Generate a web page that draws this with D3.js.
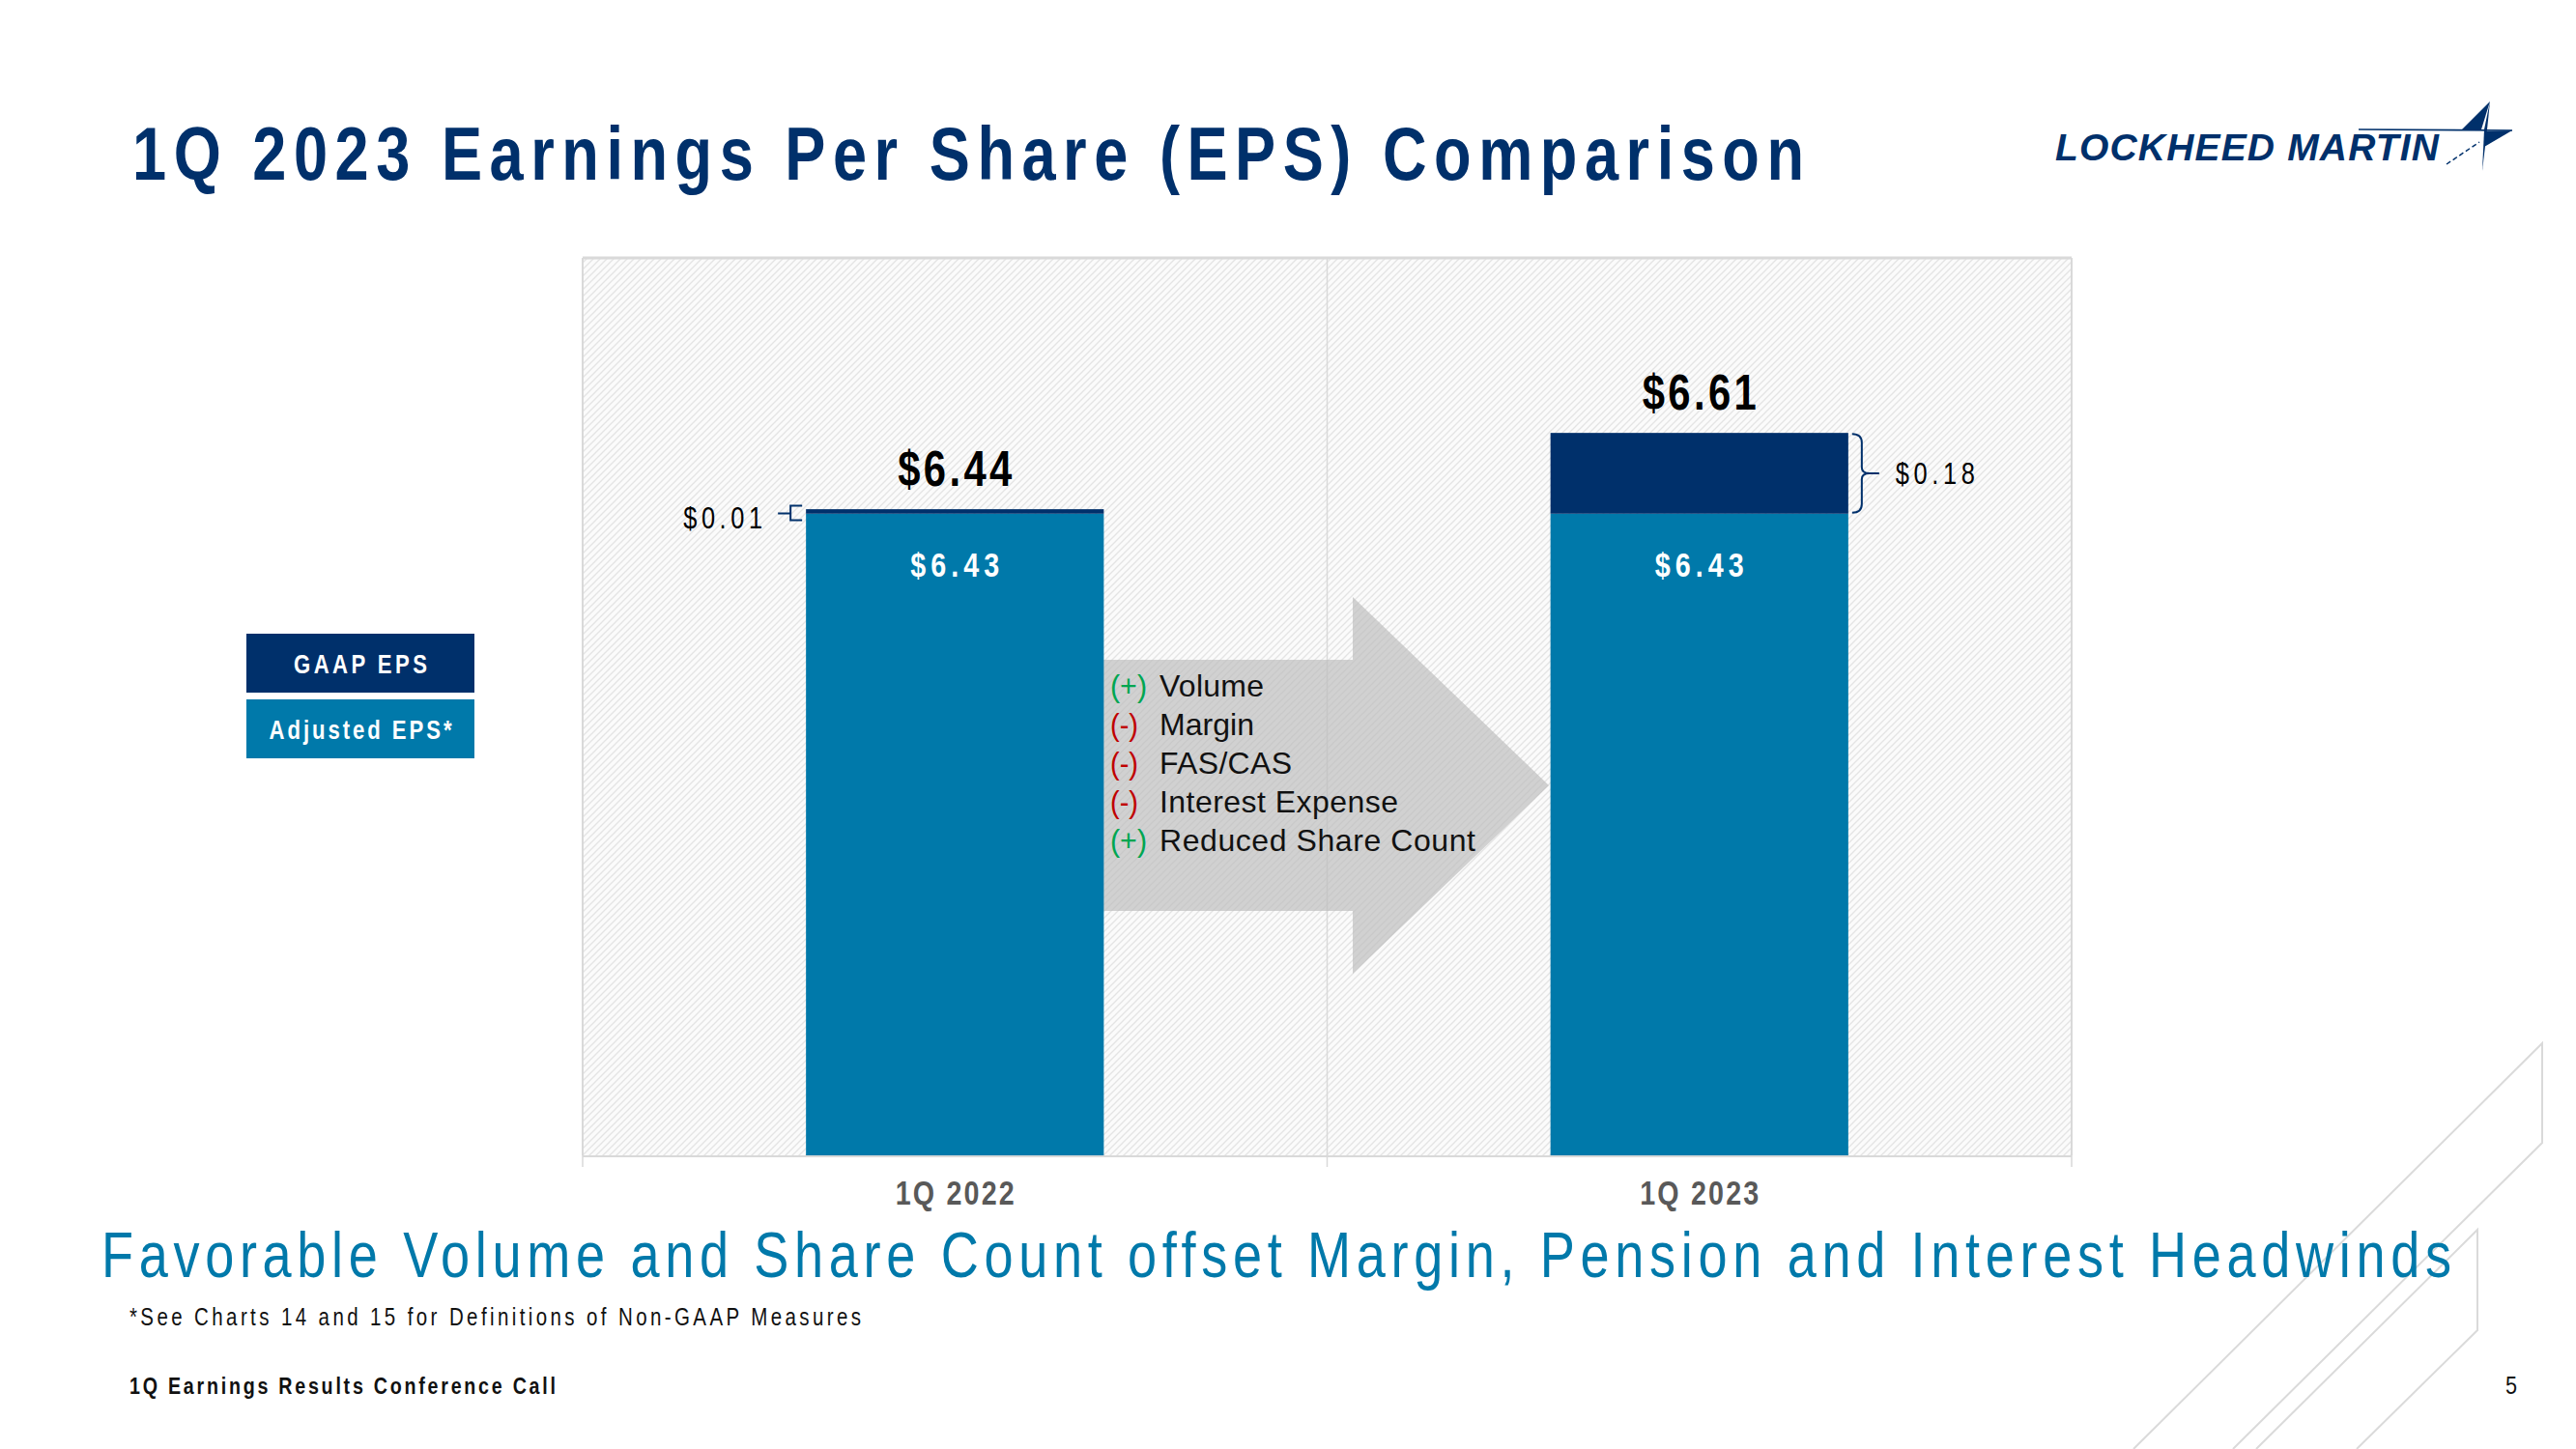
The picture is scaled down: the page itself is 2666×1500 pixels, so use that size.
<!DOCTYPE html>
<html>
<head>
<meta charset="utf-8">
<script src="https://cdn.jsdelivr.net/npm/d3@7"></script>
<style>
  html, body { margin: 0; padding: 0; background: #ffffff; }
  svg { display: block; }
</style>
</head>
<body>
<svg id="chart" width="2666" height="1500"></svg>
<script>
// ---------- DATA ----------
const categories = ["1Q 2022", "1Q 2023"];
const adjustedEPS = [6.43, 6.43];
const gaapEPS = [6.44, 6.61];
const yDomain = [5, 7];
const legendLabels = ["GAAP EPS", "Adjusted EPS*"];
const drivers = ["Volume", "Margin", "FAS/CAS", "Interest Expense", "Reduced Share Count"];
const driverSigns = ["+", "-", "-", "-", "+"];
const titleText = "1Q 2023 Earnings Per Share (EPS) Comparison";
const subtitleText = "Favorable Volume and Share Count offset Margin, Pension and Interest Headwinds";
const footnoteText = "*See Charts 14 and 15 for Definitions of Non-GAAP Measures";
const footerText = "1Q Earnings Results Conference Call";
const pageNumber = "5";
const logoText = "LOCKHEED MARTIN";

// ---------- STYLE ----------
const NAVY = "#00306b";
const TEAL = "#0079aa";
const FONT = "'Liberation Sans',Arial,'DejaVu Sans',sans-serif";
const NARROW_SCALE = 0.82;   // emulate a narrow face by horizontal scaling
const fmt = d3.format("$.2f");

const svg = d3.select("#chart");

// fit text to a target width (keeps it as real text)
function fit(sel, w) {
  sel.each(function () {
    const n = this.getComputedTextLength();
    this.setAttribute("textLength", w);
    this.setAttribute("lengthAdjust", n > w ? "spacingAndGlyphs" : "spacing");
  });
  return sel;
}
function label(parent, txt, x, y, w, size, opts = {}) {
  const k = opts.narrow ? NARROW_SCALE : 1;
  const g = parent.append("g").attr("transform", `translate(${x},${y}) scale(${k},1)`);
  const t = g.append("text")
    .attr("x", 0).attr("y", 0)
    .attr("font-family", FONT)
    .attr("font-size", size)
    .attr("font-weight", opts.weight || "normal")
    .attr("font-style", opts.style || "normal")
    .attr("fill", opts.fill || "#000")
    .text(txt);
  fit(t, w / k);
  return t;
}

// ---------- defs ----------
const defs = svg.append("defs");
const pat = defs.append("pattern").attr("id", "hatch")
  .attr("patternUnits", "userSpaceOnUse").attr("width", 7).attr("height", 7);
pat.append("rect").attr("width", 7).attr("height", 7).attr("fill", "#fbfbfb");
pat.append("path").attr("d", "M-1,1 l2,-2 M0,7 l7,-7 M6,8 l2,-2")
  .attr("stroke", "#e4e4e4").attr("stroke-width", 1.3);

// ---------- decorative lines ----------
const deco = svg.append("g").attr("fill", "none").attr("stroke", "#dadada").attr("stroke-width", 2);
deco.append("polyline").attr("points", "2208,1500 2631,1080 2631,1183 2311,1500");
deco.append("polyline").attr("points", "2335,1500 2564,1273 2564,1377 2439,1500");

// ---------- title ----------
label(svg, titleText, 137, 186, 1730, 77, { weight: "bold", fill: NAVY, narrow: true });

// ---------- logo ----------
label(svg, logoText, 2127, 166, 397, 39, { weight: "bold", style: "italic", fill: NAVY });
const logo = svg.append("g");
logo.append("line").attr("x1", 2441).attr("y1", 134).attr("x2", 2600).attr("y2", 135)
  .attr("stroke", NAVY).attr("stroke-width", 1.6);
logo.append("path").attr("d", "M2577,105 L2548,134 L2568,134 Z").attr("fill", NAVY);
logo.append("path").attr("d", "M2577,105 L2571,134 L2569,177 L2574,134 Z").attr("fill", NAVY);
logo.append("path").attr("d", "M2572,136 L2600,135 L2571,152 Z").attr("fill", NAVY);
logo.append("path").attr("d", "M2532,170 L2566,147").attr("stroke", NAVY).attr("stroke-width", 1.5)
  .attr("stroke-dasharray", "5,3");

// ---------- scales ----------
const plot = { left: 603, right: 2144, top: 267, bottom: 1196 };
const x = d3.scaleBand().domain(categories).range([plot.left, plot.right])
  .paddingInner(0.6).paddingOuter(0.3);
const y = d3.scaleLinear().domain(yDomain).range([plot.bottom, plot.top]);
const bw = x.bandwidth();

// ---------- plot background ----------
svg.append("rect").attr("x", plot.left).attr("y", plot.top)
  .attr("width", plot.right - plot.left).attr("height", plot.bottom - plot.top)
  .attr("fill", "url(#hatch)");
const frame = svg.append("g").attr("stroke", "#d9d9d9").attr("fill", "none");
frame.append("line").attr("x1", plot.left).attr("x2", plot.right).attr("y1", plot.top).attr("y2", plot.top).attr("stroke-width", 3);
frame.append("line").attr("x1", plot.left).attr("x2", plot.left).attr("y1", plot.top).attr("y2", plot.bottom).attr("stroke-width", 2);
frame.append("line").attr("x1", plot.right).attr("x2", plot.right).attr("y1", plot.top).attr("y2", plot.bottom).attr("stroke-width", 2);
// category divider
const boundaries = [plot.left, (x(categories[0]) + bw + x(categories[1])) / 2, plot.right];
frame.append("line").attr("x1", boundaries[1]).attr("x2", boundaries[1])
  .attr("y1", plot.top).attr("y2", plot.bottom).attr("stroke-width", 1.5);

// ---------- driver arrow ----------
const ax0 = 1141, ax1 = 1400, axTip = 1603, bodyTop = 683, bodyBot = 943, headTop = 618, headBot = 1008;
const mid = (headTop + headBot) / 2;
svg.append("path")
  .attr("d", `M${ax0},${bodyTop} H${ax1} V${headTop} L${axTip},${mid} L${ax1},${headBot} V${bodyBot} H${ax0} Z`)
  .attr("fill", "#bdbdbd").attr("fill-opacity", 0.68);

// ---------- bars ----------
const barData = categories.map((c, i) => ({ c, adj: adjustedEPS[i], gaap: gaapEPS[i], i }));
svg.append("g").selectAll("rect").data(barData).join("rect")
  .attr("x", d => x(d.c)).attr("width", bw)
  .attr("y", d => y(d.adj)).attr("height", d => y(yDomain[0]) - y(d.adj))
  .attr("fill", TEAL);
svg.append("g").selectAll("rect").data(barData).join("rect")
  .attr("x", d => x(d.c)).attr("width", bw)
  .attr("y", d => y(d.gaap)).attr("height", d => y(d.adj) - y(d.gaap))
  .attr("fill", NAVY);

// ---------- x axis ----------
const axis = svg.append("g").attr("transform", `translate(0,${plot.bottom})`)
  .call(d3.axisBottom(x).tickSize(0).tickPadding(0));
axis.select(".domain").remove();
axis.selectAll(".tick text")
  .attr("transform", `scale(${NARROW_SCALE},1)`)
  .attr("y", 51).attr("dy", 0).attr("x", -61.5 / NARROW_SCALE)
  .attr("text-anchor", "start")
  .attr("font-family", FONT).attr("font-size", 35).attr("font-weight", "bold").attr("fill", "#595959");
fit(axis.selectAll(".tick text"), 123 / NARROW_SCALE);
const axl = svg.append("g").attr("stroke", "#d9d9d9");
axl.append("line").attr("x1", plot.left).attr("x2", plot.right).attr("y1", plot.bottom + 1).attr("y2", plot.bottom + 1).attr("stroke-width", 2);
axl.selectAll("line.tk").data(boundaries).join("line").attr("class", "tk")
  .attr("x1", d => d).attr("x2", d => d).attr("y1", plot.bottom).attr("y2", plot.bottom + 12).attr("stroke-width", 1.5);

// ---------- value labels ----------
barData.forEach(d => {
  const cx = x(d.c) + bw / 2;
  label(svg, fmt(d.gaap), cx - 59, y(d.gaap) - 24, 118, 51, { weight: "bold", narrow: true });
  label(svg, fmt(d.adj), cx - 46, y(d.adj) + 65, 92, 35, { weight: "bold", fill: "#ffffff", narrow: true });
});

// difference labels + brackets
{
  const d = barData[0];
  const xl = x(d.c);
  const m = (y(d.gaap) + y(d.adj)) / 2;
  label(svg, fmt(d.gaap - d.adj), xl - 127, m + 18, 82, 31, { narrow: true });
  svg.append("path")
    .attr("d", `M${xl - 29},${m + 2} H${xl - 17} M${xl - 4},${m - 6} H${xl - 16} V${m + 9} H${xl - 4}`)
    .attr("fill", "none").attr("stroke", NAVY).attr("stroke-width", 2);
}
{
  const d = barData[1];
  const xr = x(d.c) + bw;
  const t = y(d.gaap), b = y(d.adj), m = (t + b) / 2;
  label(svg, fmt(d.gaap - d.adj), xr + 49, m + 11, 82, 31, { narrow: true });
  svg.append("path")
    .attr("d", `M${xr + 4},${t + 1} Q${xr + 14},${t + 1} ${xr + 14},${t + 10} V${m - 6} Q${xr + 14},${m} ${xr + 22},${m} Q${xr + 14},${m} ${xr + 14},${m + 6} V${b - 10} Q${xr + 14},${b - 1} ${xr + 4},${b - 1} M${xr + 22},${m} H${xr + 32}`)
    .attr("fill", "none").attr("stroke", NAVY).attr("stroke-width", 2);
}

// ---------- drivers text ----------
const signW = { "+": 38, "-": 29 };
const driverW = [108, 98, 137, 247, 327];
drivers.forEach((txt, i) => {
  const by = 721 + i * 40;
  const s = driverSigns[i];
  label(svg, `(${s})`, 1149, by, signW[s], 32, { fill: s === "+" ? "#00a651" : "#c00000" });
  label(svg, txt, 1200, by, driverW[i], 32, { fill: "#111111" });
});

// ---------- legend ----------
const legColors = [NAVY, TEAL];
const legW = [138, 189];
legendLabels.forEach((l, i) => {
  const ly = 656 + i * 68;
  svg.append("rect").attr("x", 255).attr("y", ly).attr("width", 236).attr("height", 61).attr("fill", legColors[i]);
  label(svg, l, 373 - legW[i] / 2, ly + 41, legW[i], 27, { weight: "bold", fill: "#ffffff", narrow: true });
});

// ---------- subtitle & footer ----------
label(svg, subtitleText, 105, 1322, 2432, 66, { fill: TEAL, narrow: true });
label(svg, footnoteText, 134, 1372, 757, 25, { fill: "#111111", narrow: true });
label(svg, footerText, 134, 1443, 441, 24, { weight: "bold", fill: "#111111", narrow: true });
label(svg, pageNumber, 2593, 1443, 12, 25, { fill: "#111111" });
</script>
</body>
</html>
